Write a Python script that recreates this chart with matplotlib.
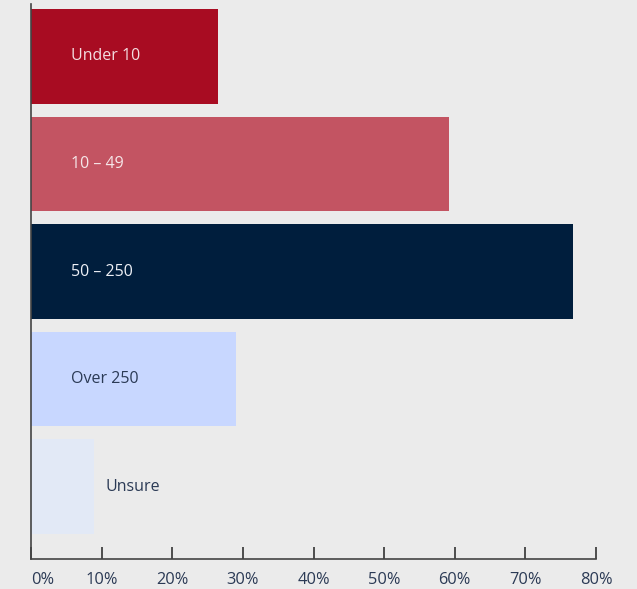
import matplotlib
matplotlib.use('Agg')
import matplotlib.pyplot as plt

categorias = ['Under 10', '10 – 49', '50 – 250', 'Over 250', 'Unsure']
valores = [26.5, 59.2, 76.8, 29.0, 8.9]
colores = ['#a80c22', '#c35462', '#001e3d', '#c8d7ff', '#e2e9f6']
color_texto = ['#f3dde0', '#f6e6e8', '#eef0f6', '#2b3a55', '#2b3a55']
ticks = [0, 10, 20, 30, 40, 50, 60, 70, 80]
tick_labels = ['%d%%' % t for t in ticks]

plt.rcParams['font.family'] = ['Open Sans', 'DejaVu Sans']
FONDO = '#ebebeb'
NAVY = '#2b3a55'

fig = plt.figure(figsize=(6.37, 5.89), dpi=100)
fig.patch.set_facecolor(FONDO)
ax = fig.add_axes([31/637, 30/589, 565/637, 555/589])
ax.set_facecolor(FONDO)

pos = list(range(len(categorias)))
ax.barh(pos, valores, height=0.875, color=colores)
ax.set_ylim(len(categorias) - 1 + 0.674, -0.488)
ax.set_xlim(0, 80)

for p, v, nom, ct in zip(pos, valores, categorias, color_texto):
    if v > 15:
        ax.annotate(nom, (0, p), xytext=(40, 0), textcoords='offset pixels',
                    va='center', ha='left', fontsize=11.5, color=ct)
    else:
        ax.annotate(nom, (v, p), xytext=(12, 0), textcoords='offset pixels',
                    va='center', ha='left', fontsize=11.5, color=ct)

ax.set_xticks(ticks)
ax.set_xticklabels(tick_labels, fontsize=11.8, color=NAVY)
ax.get_xticklabels()[0].set_ha('left')
ax.tick_params(axis='x', direction='in', length=9, width=1.2, color='#333333', pad=9)
ax.set_yticks([])
for s in ['top', 'right']:
    ax.spines[s].set_visible(False)
for s in ['left', 'bottom']:
    ax.spines[s].set_color('#444444')
    ax.spines[s].set_linewidth(1.2)

plt.savefig('out.png', dpi=100, facecolor=FONDO)
